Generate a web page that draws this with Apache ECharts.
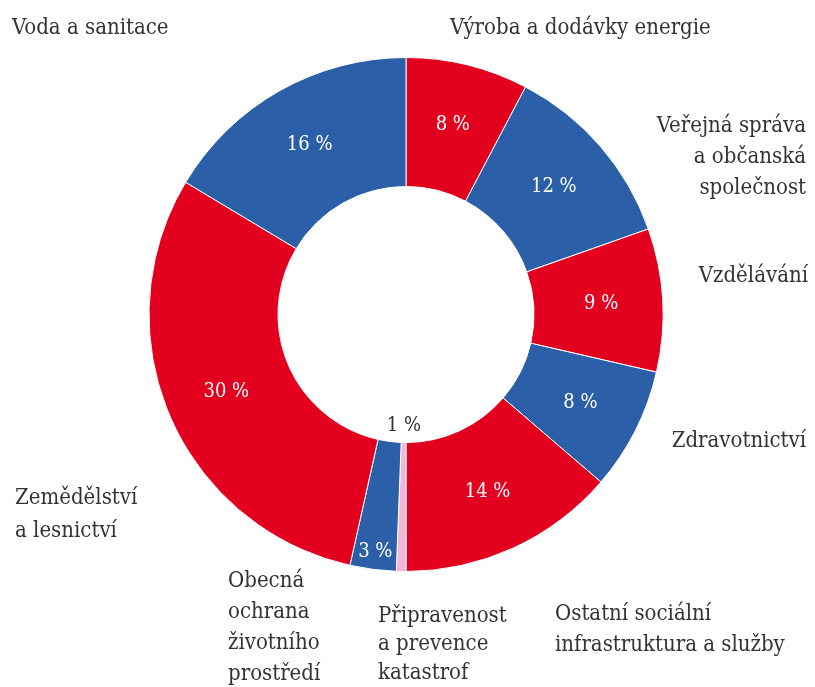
<!DOCTYPE html>
<html><head><meta charset="utf-8">
<script src="https://cdn.jsdelivr.net/npm/echarts@6/dist/echarts.min.js"></script>
<style>html,body{margin:0;padding:0;background:#fff}#c{width:815px;height:687px}</style>
</head><body><div id="c"></div>
<script>
const categories = [
  'Výroba a dodávky energie',
  'Veřejná správa\na občanská\nspolečnost',
  'Vzdělávání',
  'Zdravotnictví',
  'Ostatní sociální\ninfrastruktura a služby',
  'Připravenost\na prevence\nkatastrof',
  'Obecná\nochrana\nživotního\nprostředí',
  'Zemědělství\na lesnictví',
  'Voda a sanitace'
];
const shares = [7.7, 11.9, 9.0, 7.7, 13.7, 0.6, 2.9, 30.1, 16.4];
const colors = ['#e3001f','#2b5fa8','#e3001f','#2b5fa8','#e3001f','#f5b5d6','#2b5fa8','#e3001f','#2b5fa8'];
// label placement: x, first-line centre y, alignment, line height
const nameLayout = [
  {x:450, cy:28, align:'left', lh:30},
  {x:806, cy:126, align:'right', lh:31},
  {x:808, cy:276, align:'right', lh:30},
  {x:806, cy:441, align:'right', lh:30},
  {x:555, cy:614, align:'left', lh:31},
  {x:378, cy:616, align:'left', lh:28.5},
  {x:228, cy:581, align:'left', lh:31},
  {x:15, cy:498, align:'left', lh:33},
  {x:12, cy:28, align:'left', lh:30}
];
const FONT = "'DejaVu Serif Condensed', 'DejaVu Serif', serif";
const chart = echarts.init(document.getElementById('c'));
const mainData = categories.map((n,i)=>({
  name:n, value:shares[i], itemStyle:{color:colors[i]},
  label:{show: i!==5 && i!==6}
}));
const makeLabelData = idx => categories.map((n,i)=>({
  name:n, value:shares[i], itemStyle:{color:'rgba(0,0,0,0)'},
  label:{show: i===idx}
}));
const fmt = p => Math.round(p.value) + ' %';
const C = [406,314.5];
chart.setOption({
  animation:false,
  series:[
    {type:'pie', center:C, radius:[128,257], startAngle:90, clockwise:true,
     silent:true, data:mainData,
     itemStyle:{borderColor:'#fff', borderWidth:1},
     label:{position:'inside', formatter:fmt, color:'#fff', fontSize:20, fontFamily:FONT},
     labelLine:{show:false}},
    {type:'pie', center:C, radius:[88,128], startAngle:90, clockwise:true,
     silent:true, data:makeLabelData(5),
     label:{position:'inside', formatter:fmt, color:'#333', fontSize:20, fontFamily:FONT},
     labelLine:{show:false}},
    {type:'pie', center:C, radius:[216,256], startAngle:90, clockwise:true,
     silent:true, data:makeLabelData(6),
     label:{position:'inside', formatter:fmt, color:'#fff', fontSize:20, fontFamily:FONT},
     labelLine:{show:false}}
  ],
  graphic: categories.map((n,i)=>({
    type:'text', silent:true,
    x:nameLayout[i].x, y:nameLayout[i].cy - nameLayout[i].lh/2,
    style:{text:n, fill:'#333', font:'22px ' + FONT, textAlign:nameLayout[i].align,
      textVerticalAlign:'top', lineHeight:nameLayout[i].lh}
  }))
});
</script></body></html>
